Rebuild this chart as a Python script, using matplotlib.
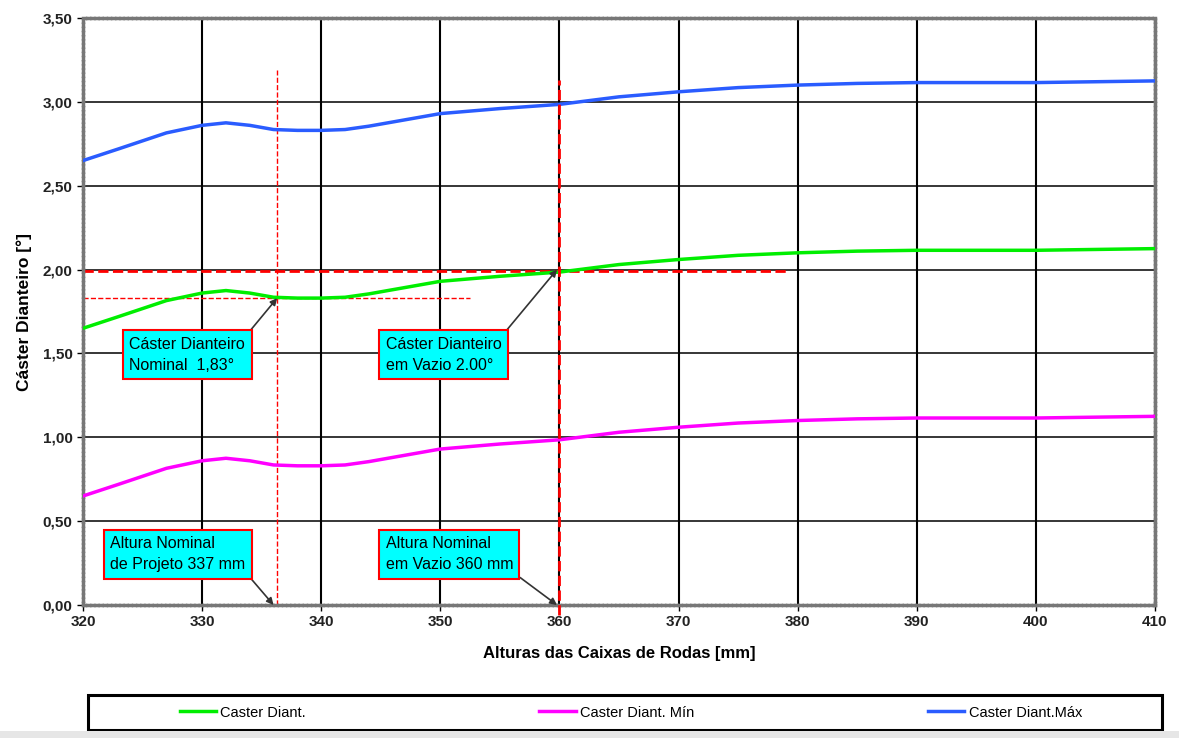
import matplotlib
matplotlib.use("Agg")
import matplotlib.pyplot as plt
from matplotlib.patches import Rectangle
from matplotlib.ticker import FuncFormatter, MultipleLocator

# ---- data ----
altura = [320, 323, 327, 330, 332, 334, 336, 338, 340, 342, 344, 346, 350,
          355, 360, 365, 370, 375, 380, 385, 390, 395, 400, 405, 410]
caster_max = [2.65, 2.72, 2.815, 2.86, 2.875, 2.86, 2.835, 2.83, 2.83, 2.835,
              2.855, 2.88, 2.93, 2.96, 2.985, 3.03, 3.06, 3.085, 3.10, 3.11,
              3.115, 3.115, 3.115, 3.12, 3.125]
caster_nom = [1.65, 1.72, 1.815, 1.86, 1.875, 1.86, 1.835, 1.83, 1.83, 1.835,
              1.855, 1.88, 1.93, 1.96, 1.985, 2.03, 2.06, 2.085, 2.10, 2.11,
              2.115, 2.115, 2.115, 2.12, 2.125]
caster_min = [0.65, 0.72, 0.815, 0.86, 0.875, 0.86, 0.835, 0.83, 0.83, 0.835,
              0.855, 0.88, 0.93, 0.96, 0.985, 1.03, 1.06, 1.085, 1.10, 1.11,
              1.115, 1.115, 1.115, 1.12, 1.125]
series_labels = ["Caster Diant.", "Caster Diant. Mín", "Caster Diant.Máx"]

alt_nominal = 336.3
alt_vazio = 360
caster_nominal = 1.83
caster_vazio = 2.00

plt.rcParams['font.family'] = ['Liberation Sans', 'DejaVu Sans']

fig = plt.figure(figsize=(11.79, 7.38), dpi=100)
ax = fig.add_axes([0.0704, 0.1802, 0.9092, 0.7954])

ax.set_xlim(320, 410)
ax.set_ylim(0, 3.5)
ax.xaxis.set_major_locator(MultipleLocator(10))
ax.yaxis.set_major_locator(MultipleLocator(0.5))
ax.yaxis.set_major_formatter(FuncFormatter(lambda v, p: f"{v:.2f}".replace('.', ',')))
ax.grid(True, axis='x', color='black', lw=1.5, zorder=0)
ax.grid(True, axis='y', color='black', lw=1.1, zorder=0)
for s in ax.spines.values():
    s.set_color('#777777')
    s.set_linestyle((0, (0.6, 0.6)))
    s.set_linewidth(2.5)
ax.tick_params(axis='both', labelsize=11, length=4, width=1)
for lbl in ax.get_xticklabels() + ax.get_yticklabels():
    lbl.set_fontweight('bold')
    lbl.set_color('#222222')

l1, = ax.plot(altura, caster_nom, color='#00ee00', lw=2.5, zorder=3)
l2, = ax.plot(altura, caster_min, color='#ff00ff', lw=2.5, zorder=3)
l3, = ax.plot(altura, caster_max, color='#2a5cff', lw=2.5, zorder=3)

# reference dashed lines
ax.plot([320, 352.5], [caster_nominal, caster_nominal], color='red', ls='--', lw=1, zorder=2)
ax.plot([320, 379.2], [caster_vazio - 0.01, caster_vazio - 0.01], color='red', ls='--', lw=2, zorder=2)
ax.plot([alt_nominal, alt_nominal], [0, 3.19], color='red', ls='--', lw=1, zorder=2)
ax.plot([alt_vazio, alt_vazio], [-0.06, 3.13], color='red', ls='--', lw=2, zorder=4, clip_on=False)

box = dict(boxstyle='square,pad=0.4', fc='#00ffff', ec='red', lw=1.5)
arrow = dict(arrowstyle='-|>', color='#333333', lw=1.2, mutation_scale=10, shrinkA=0, shrinkB=0)
tfont = dict(fontsize=11.5, color='black', ha='left', va='top', linespacing=1.5)

ax.annotate("Cáster Dianteiro\nNominal  1,83°", xy=(alt_nominal, caster_nominal),
            xytext=(323.9, 1.60), bbox=box, arrowprops=dict(arrow, relpos=(1, 1)), **tfont)
ax.annotate("Cáster Dianteiro\nem Vazio 2.00°", xy=(359.8, caster_vazio),
            xytext=(345.4, 1.60), bbox=box, arrowprops=dict(arrow, relpos=(1, 1)), **tfont)
ax.annotate("Altura Nominal\nde Projeto 337 mm", xy=(336.0, 0),
            xytext=(322.3, 0.41), bbox=box, arrowprops=dict(arrow, relpos=(1, 0)), **tfont)
ax.annotate("Altura Nominal\nem Vazio 360 mm", xy=(359.8, 0),
            xytext=(345.4, 0.41), bbox=box, arrowprops=dict(arrow, relpos=(1, 0)), **tfont)

ax.set_xlabel("Alturas das Caixas de Rodas [mm]", fontsize=12, fontweight='bold', labelpad=12)
ax.set_ylabel("Cáster Dianteiro [°]", fontsize=12.5, fontweight='bold', labelpad=8)

# legend frame and legend
fig.patches.append(Rectangle((0.0746, 0.0108), 0.911, 0.0475, transform=fig.transFigure,
                             fc='white', ec='black', lw=2.2))
fig.legend([l1, l2, l3], series_labels, loc='center', bbox_to_anchor=(0.535, 0.0345),
           ncol=3, frameon=False, fontsize=10.5, handlelength=2.5, columnspacing=16,
           handletextpad=0.3)

fig.patches.append(Rectangle((0, 0), 1, 0.009, transform=fig.transFigure,
                             fc='#e6e6e6', ec='none'))

fig.savefig("out.png", dpi=100)
